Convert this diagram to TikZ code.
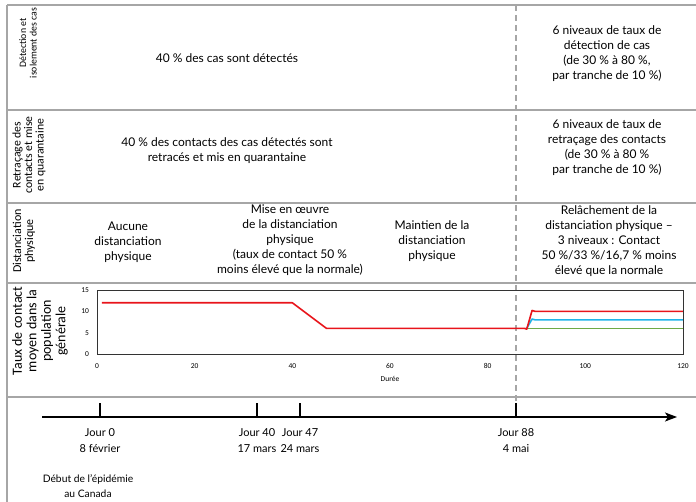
\documentclass[tikz,border=0pt]{standalone}
\usepackage{fontspec}
\setmainfont{Lato}
\newfontfamily\calib{Carlito}
\usetikzlibrary{arrows.meta}

\definecolor{grisligne}{HTML}{A6A6A6}
\definecolor{rougecourbe}{HTML}{E8141B}
\definecolor{bleucourbe}{HTML}{1FB4E8}
\definecolor{vertcourbe}{HTML}{6DAA45}

\tikzset{
  rangee/.style={draw=grisligne,line width=1.4pt},
  texte/.style={align=center,inner sep=0pt,font=\fontsize{12}{15}\selectfont},
  etiq/.style={align=center,inner sep=0pt,rotate=90,font=\calib\fontsize{11.7}{11.5}\selectfont},
  graduation/.style={inner sep=0pt,font=\calib\fontsize{7.5}{8}\selectfont},
  courbe/.style={line width=1.6pt,line join=round}
}

\begin{document}
\begin{tikzpicture}[x=1pt,y=-1pt]
          \useasboundingbox (0,0) rectangle (696,502);
          % cadre
          \draw[rangee] (7,5) -- (7,502);
          \foreach \y in {5,110,203,283,397}{
            \draw[rangee] (7,\y) -- (696,\y);}
          \draw[grisligne,line width=1.2pt,dash pattern=on 6pt off 4pt] (516,5) -- (516,403);
          % etiquettes des rangees
          \node[etiq,font=\calib\fontsize{9.8}{10.5}\selectfont] (lbldet) at (28,43) {Détection et\\isolement des cas};
          \node[etiq] (lblretr) at (29,155) {Retraçage des\\contacts et mise\\en quarantaine};
          \node[etiq,font=\calib\fontsize{12}{12}\selectfont] (lbldist) at (24,241) {Distanciation\\physique};
          \node[etiq,font=\calib\fontsize{14}{14.5}\selectfont] (lbltaux) at (40,331)
            {Taux de contact\\moyen dans la\\population\\générale};
          % detection et retracage
          \node[texte] (det) at (227,58) {40 \% des cas sont détectés};
          \node[texte] (detvar) at (607,54) {6 niveaux de taux de\\détection de cas\\(de 30 \% à 80 \%,\\par tranche de 10 \%)};
          \node[texte] (retr) at (227,151) {40 \% des contacts des cas détectés sont\\retracés et mis en quarantaine};
          \node[texte] (retrvar) at (607,148) {6 niveaux de taux de\\retraçage des contacts\\(de 30 \% à 80 \%\\par tranche de 10 \%)};
          % distanciation
          \node[texte] (aucune) at (128,242) {Aucune\\distanciation\\physique};
          \node[texte] (miseoeuvre) at (290,240) {Mise en œuvre\\de la distanciation\\physique\\(taux de contact 50 \%\\moins élevé que la normale)};
          \node[texte] (maintien) at (432,241) {Maintien de la\\distanciation\\physique};
          \node[texte] (relache) at (609,241) {Relâchement de la\\distanciation physique –\\3 niveaux : Contact\\50 \%/33 \%/16,7 \% moins\\élevé que la normale};
          % graphique
          \begin{scope}[shift={(97pt,-354pt)},x=4.883pt,y=4.267pt]
            \draw[black!80,line width=0.8pt] (0,0) rectangle (120,15);
            \foreach \v in {0,5,10,15}{
              \node[graduation,anchor=east] (gy\v) at (-1.6,\v) {\v};}
            \foreach \t in {0,20,...,120}{
              \node[graduation,yshift=-12pt] (gx\t) at (\t,0) {\t};}
            \node[graduation,yshift=-25pt] (duree) at (60,0) {Durée};
            \draw[courbe,vertcourbe] (88,6) -- (120,6);
            \draw[courbe,bleucourbe] (88,6) -- (89.1,8.2) -- (89.7,8) -- (120,8);
            \draw[courbe,rougecourbe] (1,12) -- (40,12) -- (47,6) -- (87.6,6) -- (88,5.8)
              -- (89.1,10.2) -- (89.7,10) -- (120,10);
          \end{scope}
          % ligne du temps
          \coordinate (debutaxe) at (42,417);
          \coordinate (finaxe) at (677,417);
          \draw[line width=1.3pt,-{Stealth[length=12pt,width=9pt,inset=3pt]}] (debutaxe) -- (finaxe);
          \foreach \x/\j/\d in {100/0/8 février,257/40/17 mars,300/47/24 mars,516/88/4 mai}{
            \coordinate (t\j) at (\x,417);
            \draw[line width=1.3pt] (t\j) -- ++(0,-14);
            \node[texte,font=\fontsize{11}{16}\selectfont,anchor=north,yshift=-11pt] (j\j) at (t\j) {Jour \j\\\d};}
          \node[texte,font=\fontsize{10.3}{15}\selectfont] (debut) at (88,486) {Début de l’épidémie\\au Canada};
\end{tikzpicture}
\end{document}
